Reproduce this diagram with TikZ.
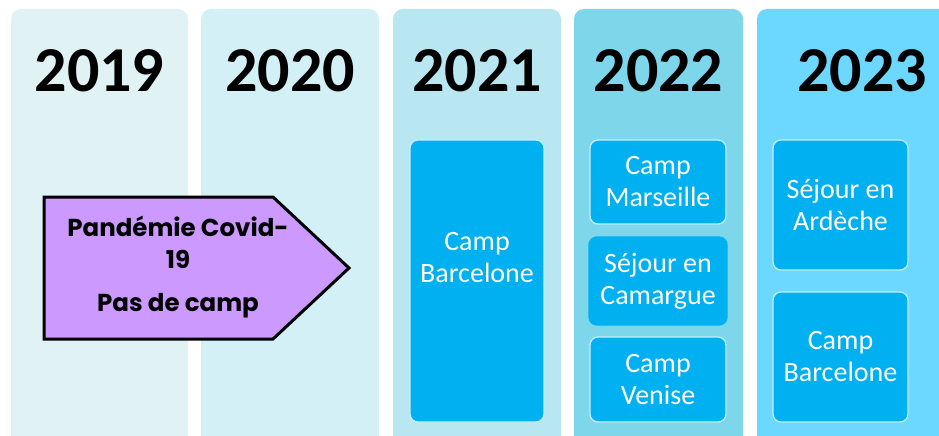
\documentclass[tikz,border=0pt]{standalone}
\usepackage{fontspec}
\setmainfont{Carlito}
\newfontfamily\covidfont{Poppins}
\usetikzlibrary{positioning}

\definecolor{colA}{HTML}{E0F2F3}
\definecolor{colB}{HTML}{D2F0F6}
\definecolor{colC}{HTML}{B8E7F2}
\definecolor{colD}{HTML}{7DD6E9}
\definecolor{colE}{HTML}{6DD8FF}
\definecolor{campblue}{HTML}{00B0F0}
\definecolor{campedge}{HTML}{C4EEFB}
\definecolor{covidpurple}{HTML}{CC99FF}

\tikzset{
  yearcol/.style={rounded corners=10pt, inner sep=0pt, minimum height=470pt},
  yeartext/.style={anchor=base, inner sep=0pt, font=\bfseries\fontsize{64}{64}\selectfont},
  campbox/.style={rectangle, rounded corners=8pt, fill=campblue, draw=campedge, line width=1.3pt,
    text=white, align=center, inner sep=0pt, font=\fontsize{28}{32}\selectfont},
}

\begin{document}
\begin{tikzpicture}[x=1pt,y=-1pt]
\useasboundingbox (0,0) rectangle (939,436);
\clip (0,0) rectangle (939,436);

			% year columns
			\node [yearcol, fill=colA, minimum width=177pt] (c19) at (99.5,244) {};
			\node [yearcol, fill=colB, minimum width=178pt] (c20) at (290,244) {};
			\node [yearcol, fill=colC, minimum width=168pt] (c21) at (477,244) {};
			\node [yearcol, fill=colD, minimum width=169pt] (c22) at (658.5,244) {};
			\node [yearcol, fill=colE, minimum width=210pt] (c23) at (862,244) {};

			\node [yeartext] (y19) at (99.5,92) {2019};
			\node [yeartext] (y20) at (290,92) {2020};
			\node [yeartext] (y21) at (477,92) {2021};
			\node [yeartext] (y22) at (658.5,92) {2022};
			\node [yeartext] (y23) at (862,92) {2023};

			% camps
			\node [campbox, minimum width=134pt, minimum height=282pt, text depth=48pt] (b21) at (477,281) {Camp\\Barcelone};
			\node [campbox, minimum width=136pt, minimum height=84pt] (b22a) at (658,182) {Camp\\Marseille};
			\node [campbox, draw=campblue, minimum width=138pt, minimum height=88pt] (b22b) at (658,281) {Séjour en\\Camargue};
			\node [campbox, minimum width=136pt, minimum height=85pt] (b22c) at (658,379.5) {Camp\\Venise};
			\node [campbox, minimum width=135pt, minimum height=130pt] (b23a) at (840.5,205) {Séjour en\\Ardèche};
			\node [campbox, minimum width=135pt, minimum height=130pt] (b23b) at (840.5,357) {Camp\\Barcelone};

			% covid
			\coordinate (p1) at (44,197);
			\coordinate (p2) at (273,197);
			\coordinate (tip) at (349,268);
			\coordinate (p3) at (273,339);
			\coordinate (p4) at (44,339);
			\draw[fill=covidpurple, line width=3pt, line join=miter] (p1) -- (p2) -- (tip) -- (p3) -- (p4) -- cycle;
			\node [align=center, inner sep=0pt, font=\covidfont\bfseries\fontsize{24.5}{32}\selectfont] (covid) at (178,267) {Pandémie Covid-\\19\\[11pt]Pas de camp};
\end{tikzpicture}
\end{document}
